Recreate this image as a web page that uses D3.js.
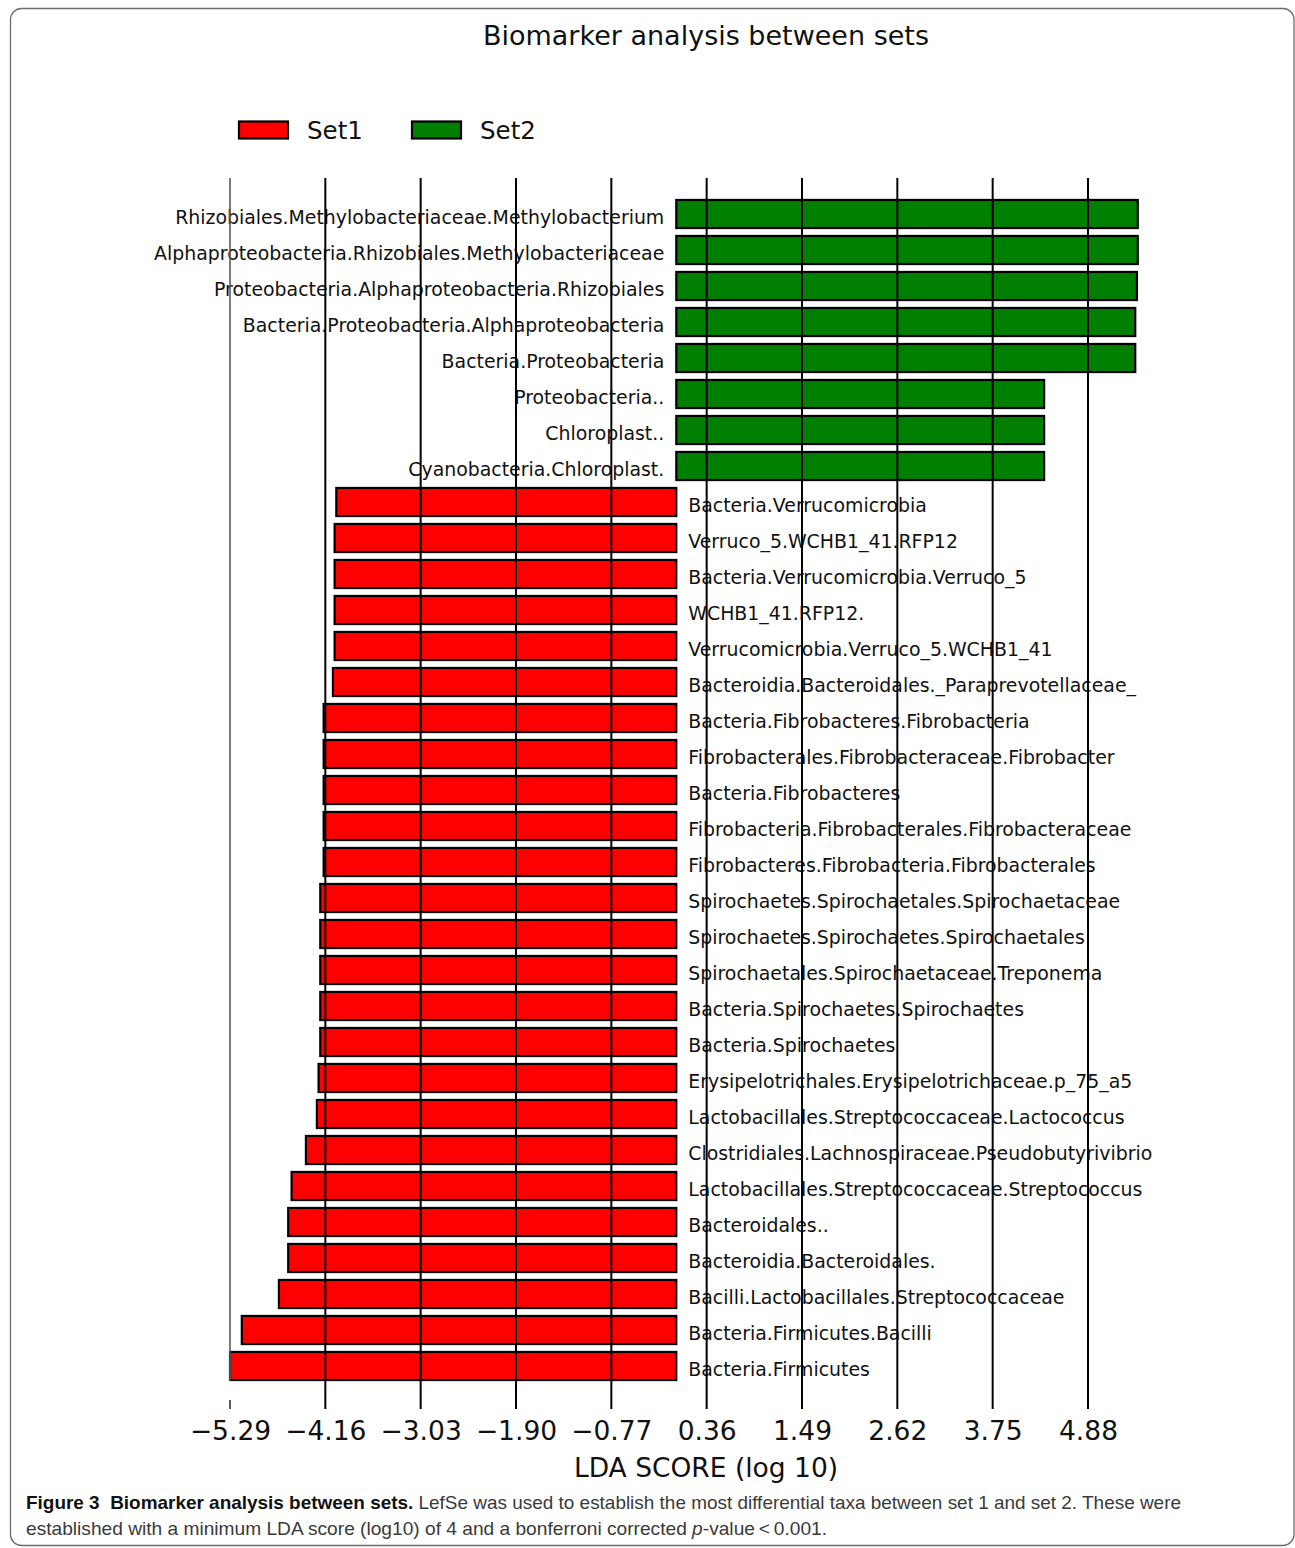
<!DOCTYPE html>
<html>
<head>
<meta charset="utf-8">
<script src="https://cdn.jsdelivr.net/npm/d3@7"></script>
<style>
  html, body { margin: 0; padding: 0; background: #fff; }
  svg { display: block; }
</style>
</head>
<body>
<script>
// ---------------- DATA ----------------
const categories = [
  "Rhizobiales.Methylobacteriaceae.Methylobacterium",
  "Alphaproteobacteria.Rhizobiales.Methylobacteriaceae",
  "Proteobacteria.Alphaproteobacteria.Rhizobiales",
  "Bacteria.Proteobacteria.Alphaproteobacteria",
  "Bacteria.Proteobacteria",
  "Proteobacteria..",
  "Chloroplast..",
  "Cyanobacteria.Chloroplast.",
  "Bacteria.Verrucomicrobia",
  "Verruco_5.WCHB1_41.RFP12",
  "Bacteria.Verrucomicrobia.Verruco_5",
  "WCHB1_41.RFP12.",
  "Verrucomicrobia.Verruco_5.WCHB1_41",
  "Bacteroidia.Bacteroidales._Paraprevotellaceae_",
  "Bacteria.Fibrobacteres.Fibrobacteria",
  "Fibrobacterales.Fibrobacteraceae.Fibrobacter",
  "Bacteria.Fibrobacteres",
  "Fibrobacteria.Fibrobacterales.Fibrobacteraceae",
  "Fibrobacteres.Fibrobacteria.Fibrobacterales",
  "Spirochaetes.Spirochaetales.Spirochaetaceae",
  "Spirochaetes.Spirochaetes.Spirochaetales",
  "Spirochaetales.Spirochaetaceae.Treponema",
  "Bacteria.Spirochaetes.Spirochaetes",
  "Bacteria.Spirochaetes",
  "Erysipelotrichales.Erysipelotrichaceae.p_75_a5",
  "Lactobacillales.Streptococcaceae.Lactococcus",
  "Clostridiales.Lachnospiraceae.Pseudobutyrivibrio",
  "Lactobacillales.Streptococcaceae.Streptococcus",
  "Bacteroidales..",
  "Bacteroidia.Bacteroidales.",
  "Bacilli.Lactobacillales.Streptococcaceae",
  "Bacteria.Firmicutes.Bacilli",
  "Bacteria.Firmicutes"
];
const ldaScores = [
  5.47, 5.47, 5.46, 5.44, 5.44, 4.36, 4.36, 4.36,
  -4.03, -4.05, -4.05, -4.05, -4.05, -4.07,
  -4.18, -4.18, -4.18, -4.18, -4.18,
  -4.22, -4.22, -4.22, -4.22, -4.22,
  -4.24, -4.26, -4.39, -4.56, -4.60, -4.60, -4.71, -5.15, -5.29
];
const groups = [
  "Set2","Set2","Set2","Set2","Set2","Set2","Set2","Set2",
  "Set1","Set1","Set1","Set1","Set1","Set1",
  "Set1","Set1","Set1","Set1","Set1",
  "Set1","Set1","Set1","Set1","Set1",
  "Set1","Set1","Set1","Set1","Set1","Set1","Set1","Set1","Set1"
];
const legendLabels = ["Set1", "Set2"];
const legendColors = ["#ff0000", "#007f00"];
const tickValues = [-5.29, -4.16, -3.03, -1.90, -0.77, 0.36, 1.49, 2.62, 3.75, 4.88];
const tickLabels = ["\u22125.29", "\u22124.16", "\u22123.03", "\u22121.90", "\u22120.77", "0.36", "1.49", "2.62", "3.75", "4.88"];
const titleText = "Biomarker analysis between sets";
const xAxisTitle = "LDA SCORE (log 10)";
const captionBold = "Figure 3\u00a0\u00a0Biomarker analysis between sets.";
const captionLine1 = " LefSe was used to establish the most differential taxa between set 1 and set 2. These were";
const captionLine2a = "established with a minimum LDA score (log10) of 4 and a bonferroni corrected ";
const captionLine2b = "p";
const captionLine2c = "-value\u2009<\u20090.001.";

// ---------------- LAYOUT ----------------
const W = 1295, H = 1548;
const font = "'DejaVu Sans', sans-serif";
const capFont = "'Liberation Sans Narrow', 'Liberation Sans', Arial, sans-serif";

const svg = d3.select("body").append("svg")
  .attr("width", W).attr("height", H);

// frame
svg.append("rect")
  .attr("x", 10.5).attr("y", 8.5)
  .attr("width", 1283.5).attr("height", 1537)
  .attr("rx", 11).attr("ry", 11)
  .attr("fill", "none").attr("stroke", "#6e6e6e").attr("stroke-width", 1.3);

// title
svg.append("text")
  .attr("x", 706).attr("y", 45)
  .attr("text-anchor", "middle")
  .attr("font-family", font).attr("font-size", 27)
  .attr("fill", "#111")
  .text(titleText);

// scales
const x = d3.scaleLinear().domain([-5.29, 4.88]).range([230, 1088]);
const y = d3.scaleBand().domain(categories).range([196, 1384]).paddingInner(0.22).paddingOuter(0.11);
const color = d3.scaleOrdinal().domain(legendLabels).range(legendColors);

const data = categories.map((c, i) => ({ name: c, value: ldaScores[i], group: groups[i] }));

// bars
svg.append("g").selectAll("rect").data(data).join("rect")
  .attr("x", d => x(Math.min(0, d.value)))
  .attr("width", d => Math.abs(x(d.value) - x(0)))
  .attr("y", d => y(d.name))
  .attr("height", y.bandwidth())
  .attr("fill", d => color(d.group))
  .attr("stroke", "#000").attr("stroke-width", 2.2);

// labels
svg.append("g").selectAll("text").data(data).join("text")
  .attr("x", d => d.value > 0 ? x(0) - 12 : x(0) + 12)
  .attr("y", d => y(d.name) + y.bandwidth() / 2 + 10)
  .attr("text-anchor", d => d.value > 0 ? "end" : "start")
  .attr("font-family", font).attr("font-size", 18.9)
  .attr("fill", "#111")
  .text(d => d.name);

// grid lines (vertical) drawn over bars
const gridTop = 178, gridBottom = 1409;
const grid = svg.append("g");
grid.selectAll("line").data(tickValues).join("line")
  .attr("x1", d => x(d)).attr("x2", d => x(d))
  .attr("y1", gridTop)
  .attr("y2", (d, i) => i === 0 ? y(categories[categories.length - 1]) + y.bandwidth() + 1 : gridBottom)
  .attr("stroke", (d, i) => i === 0 ? "#5a5a5a" : "#000")
  .attr("stroke-width", (d, i) => i === 0 ? 1.6 : 2);
// first tick mark below the gap
grid.append("line")
  .attr("x1", x(tickValues[0])).attr("x2", x(tickValues[0]))
  .attr("y1", 1400).attr("y2", gridBottom)
  .attr("stroke", "#333").attr("stroke-width", 1.6);

// x axis tick labels via d3 axis
const axis = d3.axisBottom(x)
  .tickValues(tickValues)
  .tickSize(0)
  .tickPadding(0)
  .tickFormat((d, i) => tickLabels[i]);
const axG = svg.append("g").attr("transform", "translate(0,1419)").call(axis);
axG.select(".domain").remove();
axG.selectAll("text")
  .attr("font-family", font).attr("font-size", 26.5)
  .attr("fill", "#111")
  .attr("dy", "0.78em");

// x axis title
svg.append("text")
  .attr("x", 706).attr("y", 1477)
  .attr("text-anchor", "middle")
  .attr("font-family", font).attr("font-size", 26.5)
  .attr("fill", "#111")
  .text(xAxisTitle);

// legend
const legX = [238, 411];
const leg = svg.append("g");
legendLabels.forEach((l, i) => {
  leg.append("rect")
    .attr("x", legX[i] + 1).attr("y", 121.5)
    .attr("width", 49).attr("height", 17)
    .attr("fill", legendColors[i])
    .attr("stroke", "#000").attr("stroke-width", 2.2);
  leg.append("text")
    .attr("x", legX[i] + 69).attr("y", 139)
    .attr("font-family", font).attr("font-size", 24.5)
    .attr("fill", "#111")
    .text(l);
});

// caption
const cap1 = svg.append("text")
  .attr("x", 26).attr("y", 1509)
  .attr("font-family", capFont).attr("font-size", 19)
  .attr("fill", "#3a3a3a")
  .attr("textLength", 1155).attr("lengthAdjust", "spacingAndGlyphs");
cap1.append("tspan").attr("font-weight", "bold").attr("fill", "#111").text(captionBold);
cap1.append("tspan").text(captionLine1);

const cap2 = svg.append("text")
  .attr("x", 26).attr("y", 1535)
  .attr("font-family", capFont).attr("font-size", 19)
  .attr("fill", "#3a3a3a")
  .attr("textLength", 801).attr("lengthAdjust", "spacingAndGlyphs");
cap2.append("tspan").text(captionLine2a);
cap2.append("tspan").attr("font-style", "italic").text(captionLine2b);
cap2.append("tspan").text(captionLine2c);
</script>
</body>
</html>
